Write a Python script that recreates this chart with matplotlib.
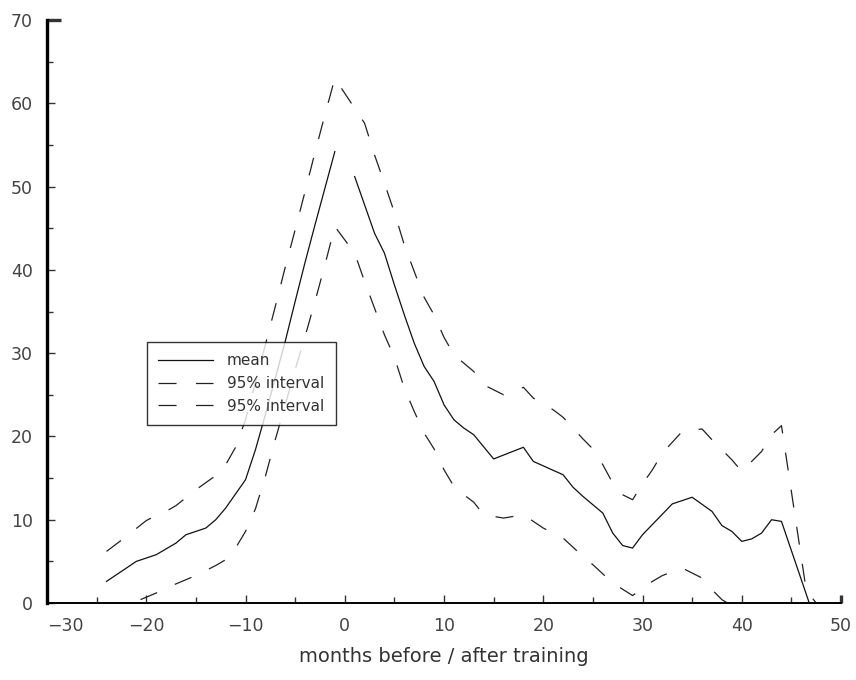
import numpy as np
import matplotlib
matplotlib.use("Agg")
import matplotlib.pyplot as plt
from matplotlib.ticker import MultipleLocator

# values
mean_x = [-24, -21, -19, -17, -16, -14, -13, -12, -10, -9, -8, -7, -6, -5, -4, -3, -2, -1, 0,
          1, 3, 4, 5, 6, 7, 8, 9, 10, 11, 12, 13,
          15, 18, 19, 22, 23, 24, 26, 27, 28, 29, 30, 33, 35, 37, 38, 39, 40, 41, 42, 43, 44, 47]
mean_y = [2.6, 5.0, 5.8, 7.2, 8.2, 9.0, 10.0, 11.4, 14.8, 18.4, 22.6, 27.0, 31.4, 36.2, 40.9, 45.4, 49.8, 54.2, np.nan,
          51.2, 44.4, 42.0, 38.2, 34.6, 31.2, 28.4, 26.6, 23.8, 22.0, 21.0, 20.2,
          17.3, 18.7, 17.0, 15.4, 13.9, 12.8, 10.8, 8.4, 6.9, 6.6, 8.2, 11.9, 12.7, 11.0, 9.3, 8.6, 7.4, 7.7, 8.4, 10.0, 9.8, -0.7]

upper_x = [-24, -22, -20, -19, -18, -17, -15, -13, -12, -11, -10, -9, -8, -7, -6, -5, -4, -3, -2, -1,
           2, 3, 4, 5, 6, 7, 8, 9, 10, 11, 13, 14, 16, 18, 19, 21, 22, 24, 25, 26, 27, 28, 29,
           30, 31, 32, 34, 36, 37, 39, 40, 42, 43, 44, 46.5, 47.5]
upper_y = [6.2, 8.0, 9.9, 10.5, 11.0, 11.7, 13.6, 15.3, 16.6, 18.7, 22.0, 26.5, 31.0, 35.6, 40.3, 44.8, 49.4, 54.1, 58.6, 63.0,
           57.6, 53.8, 50.4, 46.9, 43.0, 39.8, 36.7, 34.6, 31.9, 29.8, 27.8, 26.2, 25.0, 25.9, 24.6, 23.2, 22.3, 19.7, 18.5, 16.6, 14.4, 13.0, 12.4,
           14.3, 16.0, 18.0, 20.6, 20.9, 19.6, 17.2, 15.8, 18.2, 20.2, 21.3, 1.5, 0.0]

lower_x = [-24, -21, -19, -17, -15, -13, -12, -11, -10, -9, -8, -7, -6, -5, -4, -3, -2, -1,
           1, 2, 3, 4, 5, 6, 7, 8, 9, 10, 11, 12, 13, 14,
           16, 18, 20, 22, 24, 25, 27, 29, 31, 32, 34, 36, 37, 38, 40, 44, 47]
lower_y = [-1.5, 0.2, 1.2, 2.3, 3.3, 4.5, 5.2, 6.6, 8.6, 11.3, 15.2, 19.6, 23.8, 28.0, 32.0, 36.2, 40.6, 45.2,
           42.0, 38.6, 35.4, 32.2, 29.5, 25.8, 23.0, 20.4, 18.5, 16.0, 14.0, 13.0, 12.1, 10.6,
           10.2, 10.6, 9.0, 7.8, 5.6, 4.6, 2.4, 0.9, 2.6, 3.3, 4.2, 3.0, 1.6, 0.4, -1.0, -1.7, -2.0]

x_ticks = [-30, -20, -10, 0, 10, 20, 30, 40, 50]
y_ticks = [0, 10, 20, 30, 40, 50, 60, 70]

plt.rcParams['font.family'] = ['DejaVu Sans']
plt.rcParams['lines.scale_dashes'] = False

fig = plt.figure(figsize=(8.56, 6.8), dpi=100)
ax = fig.add_axes([0.0549, 0.1132, 0.9276, 0.8574])

ax.plot(mean_x, mean_y, color='#111111', lw=0.9, label='mean')
ax.plot(upper_x, upper_y, color='#222222', lw=0.9, dashes=(13, 14), label='95% interval')
ax.plot(lower_x, lower_y, color='#222222', lw=0.9, dashes=(13, 14), label='95% interval')

ax.set_xlim(-30, 50)
ax.set_ylim(0, 70)
ax.set_xticks(x_ticks)
ax.set_yticks(y_ticks)
ax.xaxis.set_minor_locator(MultipleLocator(5))
ax.yaxis.set_minor_locator(MultipleLocator(5))

for s in ['top', 'right']:
    ax.spines[s].set_visible(False)
ax.spines['left'].set_linewidth(2.4)
ax.spines['bottom'].set_linewidth(1.4)

ax.tick_params(which='major', direction='in', length=6, width=1.0, colors='#333333',
               labelsize=12.5, labelcolor='#444444')
ax.tick_params(which='minor', direction='in', length=4, width=1.0, colors='#333333')
ax.tick_params(axis='x', which='major', pad=10)
ax.tick_params(axis='y', which='major', pad=10)

# long tick at the top of the y axis, small end tick on x axis
ax.yaxis.get_major_ticks()[-1].tick1line.set_markersize(10)
ax.yaxis.get_major_ticks()[-1].tick1line.set_markeredgewidth(2.4)
ax.xaxis.get_major_ticks()[-1].tick1line.set_markeredgewidth(2.4)

ax.set_xticklabels([str(t).replace('-', '\u2212') for t in x_ticks])
ax.get_xticklabels()[0].set_horizontalalignment('left')

ax.set_xlabel('months before / after training', fontsize=14, color='#333333', labelpad=9)

leg = ax.legend(loc='upper left', bbox_to_anchor=(0.1256, 0.448), borderaxespad=0,
                fontsize=11, handlelength=3.6, handletextpad=0.9, labelspacing=0.5,
                borderpad=0.75, fancybox=False, frameon=True)
leg.get_frame().set_edgecolor('black')
leg.get_frame().set_linewidth(1.0)
for t in leg.get_texts():
    t.set_color('#333333')

fig.savefig('out.png', dpi=100)
